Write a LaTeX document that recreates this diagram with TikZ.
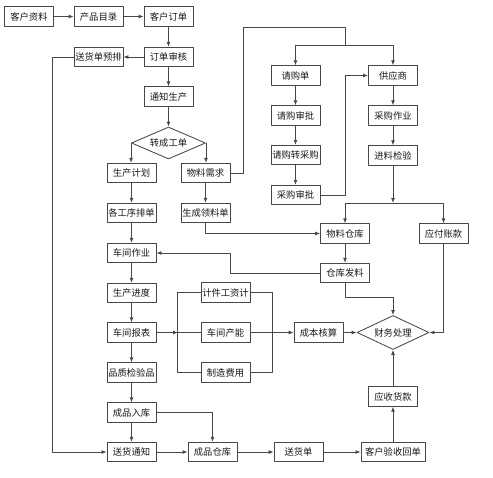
\documentclass[tikz,border=0pt]{standalone}
\usepackage{fontspec}
\newfontfamily\cjk{Noto Sans CJK SC}
\usetikzlibrary{shapes.geometric,arrows.meta}

\begin{document}
\begin{tikzpicture}[x=1pt, y=-1pt, line cap=round, line join=round, line width=0.85pt, color=black!72,
  box/.style={draw, minimum width=49pt, minimum height=19.5pt, inner xsep=1.2pt, inner ysep=1pt, font=\cjk\fontsize{9.3}{10}\selectfont, text=black!90},
  dia/.style={diamond, draw, minimum width=74pt, minimum height=32pt, inner sep=0pt, aspect=2.3, font=\cjk\fontsize{9.3}{10}\selectfont, text=black!90},
  arr/.style={-{Latex[length=5pt,width=4pt]}}]
\fill [white] (0,0) rectangle (493,477);
\useasboundingbox (0,0) rectangle (493,477);
\node [box] (khzl) at (29,16.5) {客户资料};
\node [box] (cpml) at (98.5,16.5) {产品目录};
\node [box] (khdd) at (168.5,16.5) {客户订单};
\node [box] (ddsh) at (168.5,57) {订单审核};
\node [box] (shdy) at (98.5,57) {送货单预排};
\node [box] (tzsc) at (168.5,96.5) {通知生产};
\node [dia] (zcgd) at (168.5,143) {转成工单};
\node [box] (scjh) at (131.5,173) {生产计划};
\node [box] (wlxq) at (205.5,173) {物料需求};
\node [box] (gxpd) at (131.5,213) {各工序排单};
\node [box] (scll) at (205.5,213) {生成领料单};
\node [box] (cjzy) at (131.5,253) {车间作业};
\node [box] (scjd) at (131.5,293) {生产进度};
\node [box] (cjbb) at (131.5,332.5) {车间报表};
\node [box] (pzjy) at (131.5,372.5) {品质检验品};
\node [box] (cprk) at (131.5,412.5) {成品入库};
\node [box] (shtz) at (131.5,452) {送货通知};
\node [box] (cpck) at (212.5,452) {成品仓库};
\node [box] (shd) at (298.5,452) {送货单};
\node [box, minimum width=64pt] (khys) at (393,452) {客户验收回单};
\node [box] (ysk) at (393,396.5) {应收货款};
\node [dia, minimum width=72pt, minimum height=34pt] (cwcl) at (393,332.5) {财务处理};
\node [box] (cbhs) at (318.5,332.5) {成本核算};
\node [box] (jjgz) at (225.5,292.5) {计件工资计};
\node [box] (cjcn) at (225.5,332.5) {车间产能};
\node [box] (zzfy) at (225.5,372.5) {制造费用};
\node [box] (qgd) at (295.5,75.5) {请购单};
\node [box] (qgsp) at (295.5,115.5) {请购审批};
\node [box] (qgzc) at (295.5,155) {请购转采购};
\node [box] (cgsp) at (295.5,195) {采购审批};
\node [box] (gys) at (393,75.5) {供应商};
\node [box] (cgzy) at (393,115.5) {采购作业};
\node [box] (jljy) at (393,155.5) {进料检验};
\node [box] (wlck) at (345,233.5) {物料仓库};
\node [box] (yfzk) at (443.5,233.5) {应付账款};
\node [box] (ckfl) at (345,273) {仓库发料};
\coordinate (qgtop) at (345,45);
\coordinate (cktop) at (393,203);
\coordinate (bl) at (178,332.5);
\foreach \a/\b in {khzl/cpml, cpml/khdd, khdd/ddsh, ddsh/shdy, ddsh/tzsc, tzsc/zcgd, scjh/gxpd, gxpd/cjzy, cjzy/scjd, scjd/cjbb, cjbb/pzjy, pzjy/cprk, cprk/shtz, shtz/cpck, cpck/shd, shd/khys, khys/ysk, ysk/cwcl, wlxq/scll, qgd/qgsp, qgsp/qgzc, qgzc/cgsp, gys/cgzy, cgzy/jljy, wlck/ckfl, cbhs/cwcl, cjcn/cbhs}
  \draw [arr] (\a) -- (\b);
\draw [arr] (zcgd.west) -- (zcgd.west |- scjh.north);
\draw [arr] (zcgd.east) -- (zcgd.east |- wlxq.north);
\draw (wlxq.east) -- ++(13,0) |- (345,27) -- (qgtop);
\draw [arr] (qgtop) -| (qgd.north);
\draw [arr] (qgtop) -| (gys.north);
\draw [arr] (cgsp.east) -- ++(25,0) |- (gys.west);
\draw [arr] (jljy) -- (cktop);
\draw [arr] (cktop) -| (wlck.north);
\draw [arr] (cktop) -| (yfzk.north);
\draw [arr] (scll.south) |- (wlck.west);
\draw [arr] (ckfl.west) -- ++(-90,0) |- (cjzy.east);
\draw [arr] (ckfl.south) -- ++(0,14) -| (cwcl.north);
\draw [arr] (yfzk.south) |- (cwcl.east);
\draw [arr] (cprk.east) -| (cpck.north);
\draw [arr] (shdy.west) -- ++(-21,0) |- (shtz.west);
\draw [arr] (cjbb) -- (bl);
\draw (bl) -- (cjcn);
\draw (jjgz.west) -- ++(-23,0) |- (zzfy.west);
\draw (jjgz.east) -- ++(22,0) |- (zzfy.east);
\end{tikzpicture}
\end{document}
